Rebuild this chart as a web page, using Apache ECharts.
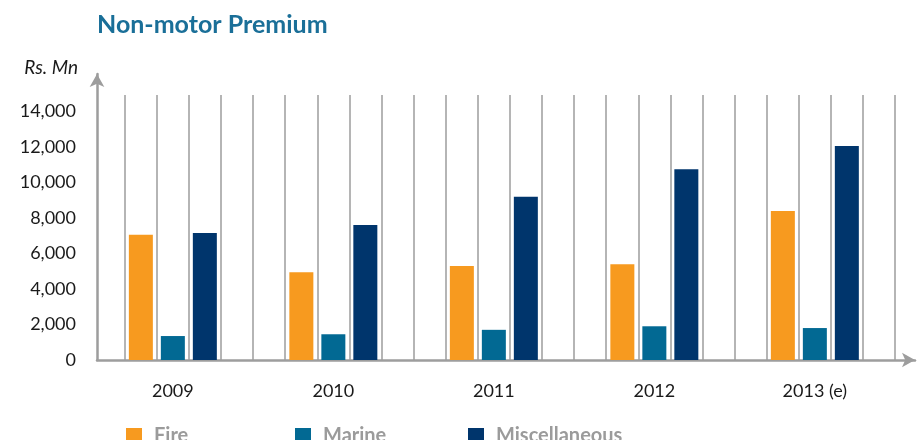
<!DOCTYPE html>
<html>
<head>
<meta charset="utf-8">
<script src="https://cdn.jsdelivr.net/npm/echarts@6/dist/echarts.min.js"></script>
<style>
  html, body { margin: 0; padding: 0; background: #fff; }
  #chart { width: 919px; height: 440px; }
</style>
</head>
<body>
<div id="chart"></div>
<script>
// data (Rs. Mn)
const years = ['2009', '2010', '2011', '2012', '2013 (e)'];
const fire = [7050, 4950, 5300, 5400, 8400];
const marine = [1350, 1450, 1700, 1900, 1800];
const misc = [7150, 7600, 9200, 10750, 12050];
const seriesNames = ['Fire', 'Marine', 'Miscellaneous'];
const yTicks = [0, 2000, 4000, 6000, 8000, 10000, 12000, 14000];

const chart = echarts.init(document.getElementById('chart'));

// shared vertical scale: px per 1000 and axis baseline
const pxPerK = 17.75;
const baseY = 360;
const topAxis = 74;   // arrow end of y axis
const topPlot = 95;   // top of bars / vertical lines
const maxAxis = (baseY - topAxis) / pxPerK * 1000;
const maxPlot = (baseY - topPlot) / pxPerK * 1000;
const labelMax = yTicks[yTicks.length - 1];

const font = 'Lato, "Open Sans", sans-serif';
const axisGrey = '#9d9d9d';

function legendAt(name, left) {
  return {
    data: [name],
    left: left,
    top: 421,
    icon: 'rect',
    itemWidth: 16,
    itemHeight: 16,
    selectedMode: false,
    textStyle: {
      fontFamily: font,
      fontSize: 20,
      fontWeight: 'bold',
      color: '#9b9b9b',
      padding: [0, 0, 0, 7]
    }
  };
}

const option = {
  animation: false,
  title: {
    text: 'Non-motor Premium',
    left: 92,
    top: 7,
    textStyle: { fontFamily: font, fontSize: 25, fontWeight: 'bold', color: '#1a6f98' }
  },
  legend: [
    legendAt(seriesNames[0], 121),
    legendAt(seriesNames[1], 290),
    legendAt(seriesNames[2], 463)
  ],
  grid: [
    // axes with arrows
    { left: 97, right: 4, top: topAxis, bottom: 440 - baseY },
    // vertical guide lines
    { left: 124.7, right: 23.9, top: topPlot, bottom: 440 - baseY },
    // bars
    { left: 92.6, right: 23.9, top: topPlot, bottom: 440 - baseY }
  ],
  xAxis: [
    {
      gridIndex: 0, type: 'value', min: 0, max: 1,
      axisLine: { show: true, lineStyle: { color: axisGrey, width: 2.5 }, symbol: ['none', 'arrow'], symbolSize: [11, 13] },
      axisTick: { show: false }, axisLabel: { show: false }, splitLine: { show: false }
    },
    {
      gridIndex: 1, type: 'value', min: 0, max: 24, interval: 1,
      axisLine: { show: false }, axisTick: { show: false }, axisLabel: { show: false },
      splitLine: { show: true, lineStyle: { color: '#b5b5b5', width: 2 } }
    },
    {
      gridIndex: 2, type: 'category', data: years,
      axisLine: { show: false }, axisTick: { show: false },
      axisLabel: { margin: 22, fontFamily: font, fontSize: 18, color: '#1a1a1a' }
    }
  ],
  yAxis: [
    {
      gridIndex: 0, type: 'value', min: 0, max: maxAxis, interval: 2000,
      name: 'Rs. Mn', nameLocation: 'end', nameGap: 6,
      nameTextStyle: { fontFamily: font, fontSize: 19, fontStyle: 'italic', color: '#1a1a1a', align: 'right', verticalAlign: 'middle', padding: [0, 19, 0, 0] },
      axisLine: { show: true, lineStyle: { color: axisGrey, width: 2.5 }, symbol: ['none', 'arrow'], symbolSize: [11, 13] },
      axisTick: { show: false },
      splitLine: { show: false },
      axisLabel: {
        margin: 21, fontFamily: font, fontSize: 18, color: '#1a1a1a',
        showMaxLabel: false,
        formatter: v => v > labelMax ? '' : v.toLocaleString('en-US')
      }
    },
    {
      gridIndex: 1, type: 'value', min: 0, max: maxPlot, show: false, splitLine: { show: false }
    },
    {
      gridIndex: 2, type: 'value', min: 0, max: maxPlot, show: false, splitLine: { show: false }
    }
  ],
  series: [
    { name: seriesNames[0], type: 'bar', xAxisIndex: 2, yAxisIndex: 2, data: fire, barWidth: 24, barGap: '33.3%', itemStyle: { color: '#f79a1f' } },
    { name: seriesNames[1], type: 'bar', xAxisIndex: 2, yAxisIndex: 2, data: marine, barWidth: 24, barGap: '33.3%', itemStyle: { color: '#026993' } },
    { name: seriesNames[2], type: 'bar', xAxisIndex: 2, yAxisIndex: 2, data: misc, barWidth: 24, barGap: '33.3%', itemStyle: { color: '#00356c' } }
  ]
};

chart.setOption(option);
window.addEventListener('resize', () => chart.resize());
</script>
</body>
</html>
